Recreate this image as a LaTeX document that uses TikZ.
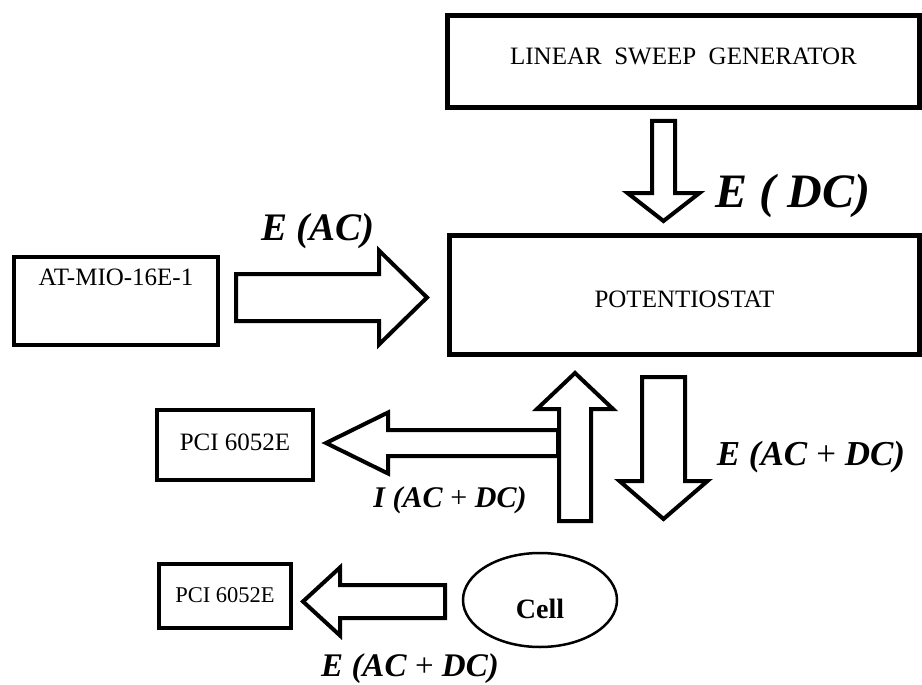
\documentclass[tikz,border=0pt]{standalone}
\usepackage{fontspec}
\setmainfont{Liberation Serif}
\usetikzlibrary{calc,shapes.geometric}
\tikzset{
	every block/.style={
		rectangle,
		draw,
		line width=4.5pt,
		font=\fontsize{25}{30}\selectfont
	},
	block arrow/.style={
		draw,
		fill=white,
		line width=4pt,
		line join=miter
	},
	signal/.style={
		font=\bfseries\itshape
	},
}
% fat arrow from #1 to the tip #2: shaft half width, head half width, head length
\newcommand{\blockarrow}[5]{%
	\coordinate (ba-h) at ($(#2)!#5!(#1)$);
	\draw [block arrow] ($(#1)!#3!90:(#2)$) -- ($(ba-h)!#3!-90:(#1)$)
		-- ($(ba-h)!#4!-90:(#1)$) -- (#2) -- ($(ba-h)!#4!90:(#1)$)
		-- ($(ba-h)!#3!90:(#1)$) -- ($(#1)!#3!-90:(#2)$) -- cycle;
}

\begin{document}
\begin{tikzpicture}[x=1pt, y=-1pt]
\useasboundingbox (0,0) rectangle (922,685);

\node [every block, minimum width=472, minimum height=92, text height=18, text depth=11]
	(sweep) at (683.5,61.5) {LINEAR~~SWEEP~~GENERATOR};
\node [every block, minimum width=470, minimum height=119, text height=24, text depth=0]
	(pot) at (684.5,295) {POTENTIOSTAT};
\node [every block, minimum width=204, minimum height=88, text height=18, text depth=50]
	(atmio) at (116,301) {AT-MIO-16E-1};
\node [every block, minimum width=156, minimum height=70, text height=17, text depth=7]
	(pci-1) at (235,445) {PCI 6052E};
\node [every block, minimum width=132, minimum height=64, text height=17, text depth=5,
	font=\fontsize{22.5}{26}\selectfont]
	(pci-2) at (225,596) {PCI 6052E};
\node [ellipse, draw, line width=2.5pt, minimum width=154, minimum height=94,
	text height=36, text depth=0, font=\fontsize{28}{32}\selectfont\bfseries]
	(cell) at (540,600) {Cell};

% arrow ends
\coordinate (dc-in) at (663.5,121);
\coordinate (dc-out) at (663.5,221);
\coordinate (ac-in) at (236,297.5);
\coordinate (ac-out) at (427,297.5);
\coordinate (i-in) at (558,443);
\coordinate (i-out) at (326,443);
\coordinate (up-in) at (575,521);
\coordinate (up-out) at (575,373);
\coordinate (down-in) at (663.5,377);
\coordinate (down-out) at (663.5,519);
\coordinate (e-in) at (445,601.5);
\coordinate (e-out) at (303,601.5);

\blockarrow{dc-in}{dc-out}{11.5pt}{36pt}{28pt}
\blockarrow{ac-in}{ac-out}{23.5pt}{47pt}{48pt}
\blockarrow{i-in}{i-out}{13pt}{30.5pt}{62pt}
\blockarrow{up-in}{up-out}{16pt}{38pt}{36pt}
\blockarrow{down-in}{down-out}{21.5pt}{44pt}{38pt}
\blockarrow{e-in}{e-out}{16.5pt}{34pt}{37pt}

\node [signal, font=\fontsize{48}{54}\selectfont\bfseries\itshape] (l-dc) at (793,196) {E ( DC)};
\node [signal, font=\fontsize{39}{44}\selectfont\bfseries\itshape] (l-ac) at (318,231) {E (AC)};
\node [signal, font=\fontsize{35}{40}\selectfont\bfseries\itshape] (l-down) at (811,457)
	{E (AC \textnormal{+} DC)};
\node [signal, font=\fontsize{30}{34}\selectfont\bfseries\itshape] (l-i) at (450,500)
	{I (AC \textnormal{+} DC)};
\node [signal, font=\fontsize{33}{38}\selectfont\bfseries\itshape] (l-e) at (410,669)
	{E (AC \textnormal{+} DC)};

\end{tikzpicture}
\end{document}
